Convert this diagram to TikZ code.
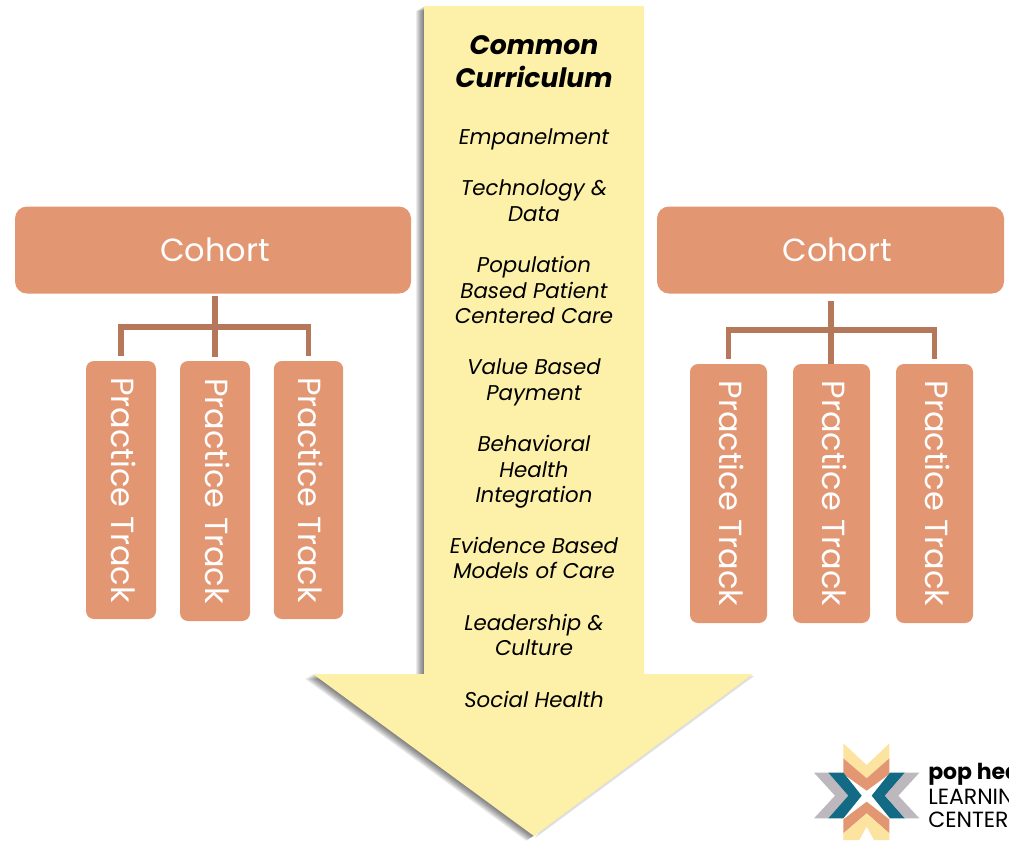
\documentclass[tikz,border=0pt]{standalone}
\usepackage{fontspec}
\setmainfont{Poppins}
\usepackage{tikz}
\definecolor{cohortcol}{HTML}{E29672}
\definecolor{linkcol}{HTML}{B5785A}
\definecolor{arrowcol}{HTML}{FDF0A9}
\definecolor{logoyellow}{HTML}{FDE3A0}
\definecolor{logoblue}{HTML}{126A85}
\definecolor{logogray}{HTML}{BDB7BE}
\tikzset{
  cohort/.style={fill=cohortcol, text=white, rounded corners=9pt, font=\fontsize{24}{28}\selectfont, minimum height=65.25pt},
  track/.style={fill=cohortcol, text=white, rounded corners=6pt, rotate=-90, text depth=4pt, font=\fontsize{24}{28}\selectfont},
  topic/.style={align=center, font=\fontsize{16}{19.1}\selectfont\itshape},
  link/.style={draw=linkcol, line width=4pt},
}
\begin{document}
\begin{tikzpicture}[x=0.75pt, y=-0.75pt]
      \useasboundingbox (0, 0) rectangle (1009, 840);
      \fill[black, opacity=0.12, shift={(1, 2)}] (644, 674) -- (753, 674) -- (534, 836) -- cycle;
      \foreach \s in {1, ..., 8} {
        \fill[black, opacity=0.08, shift={(-\s, 0.6*\s)}] (424, 6) -- (644, 6) -- (644, 674) -- (753, 674) -- (534, 836) -- (313, 674) -- (424, 674) -- cycle;
      }
      \fill[arrowcol] (424, 6) -- (644, 6) -- (644, 674) -- (753, 674) -- (534, 836) -- (313, 674) -- (424, 674) -- cycle;
      % left side
      \node[cohort, minimum width=297pt, text width=280pt, align=center] (cl) at (213, 250) {\hspace{3pt}Cohort};
      \node[track, minimum width=193.5pt, minimum height=52.5pt] (tl1) at (121, 490) {Practice Track};
      \node[track, minimum width=195pt, minimum height=52.5pt] (tl2) at (215, 491) {Practice Track};
      \node[track, minimum width=193.5pt, minimum height=52pt] (tl3) at (308.5, 490) {Practice Track};
      \coordinate (bl) at (215, 327);
      \draw[link] (cl.south -| bl) ++(0, 2) -- (tl2.west |- 0, 357);
      \draw[link] (tl1.west) ++(0, -5) |- (bl) -| ([yshift=3.75pt]tl3.west);
      % right side
      \node[cohort, minimum width=260.25pt, text width=245pt, align=center] (cr) at (830.5, 250) {\hspace{10pt}Cohort};
      \node[track, minimum width=194.25pt, minimum height=57.75pt] (tr1) at (728.5, 493.5) {Practice Track};
      \node[track, minimum width=194.25pt, minimum height=57.75pt] (tr2) at (831.5, 493.5) {Practice Track};
      \node[track, minimum width=194.25pt, minimum height=57.75pt] (tr3) at (934.5, 493.5) {Practice Track};
      \coordinate (br) at (831, 330);
      \draw[link] (831, 301) -- (br |- tr2.west) ++(0, -6);
      \draw[link] ([yshift=3.75pt]tr1.west) |- (br) -| ([yshift=3.75pt]tr3.west);
      % curriculum
      \node[topic, font=\fontsize{20}{24.5}\selectfont\bfseries\itshape] (t0) at (534, 61.5) {Common\\Curriculum};
      \node[topic] (t1) at (534, 139) {Empanelment};
      \node[topic] (t2) at (534, 200.5) {Technology \&\\Data};
      \node[topic] (t3) at (534, 290) {Population\\Based Patient\\Centered Care};
      \node[topic] (t4) at (534, 382.5) {Value Based\\Payment};
      \node[topic] (t5) at (534, 472) {Behavioral\\Health\\Integration};
      \node[topic] (t6) at (534, 558) {Evidence Based\\Models of Care};
      \node[topic] (t7) at (534, 635) {Leadership \&\\Culture};
      \node[topic] (t8) at (534, 699) {Social Health};
      % logo
      \begin{scope}[shift={(800, 730)}, x=0.25pt, y=-0.25pt]
        \fill[logoyellow] (130, 40) -- (200, 105) -- (268, 40) -- (268, 85) -- (200, 145) -- (130, 85) -- cycle;
        \fill[cohortcol] (130, 85) -- (200, 145) -- (268, 85) -- (268, 132) -- (200, 182) -- (130, 132) -- cycle;
        \fill[cohortcol] (200, 215) -- (268, 268) -- (268, 310) -- (200, 250) -- (130, 310) -- (130, 268) -- cycle;
        \fill[logoyellow] (200, 250) -- (268, 310) -- (268, 330) -- (222, 330) -- (200, 290) -- (178, 330) -- (130, 330) -- (130, 310) -- cycle;
        \fill[logogray] (42, 128) -- (85, 128) -- (145, 197) -- (85, 265) -- (42, 265) -- (105, 197) -- cycle;
        \fill[logoblue] (85, 128) -- (130, 128) -- (185, 197) -- (130, 265) -- (85, 265) -- (145, 197) -- cycle;
        \fill[logoblue] (270, 128) -- (315, 128) -- (255, 197) -- (315, 265) -- (270, 265) -- (215, 197) -- cycle;
        \fill[logogray] (315, 128) -- (358, 128) -- (295, 197) -- (358, 265) -- (315, 265) -- (255, 197) -- cycle;
      \end{scope}
      \node[anchor=base west, inner sep=0pt, font=\fontsize{16.5}{18}\selectfont\bfseries] (l1) at (928, 779) {pop hea};
      \node[anchor=base west, inner sep=0pt, font=\fontsize{16.5}{18}\selectfont] (l2) at (928, 804) {LEARNIN};
      \node[anchor=base west, inner sep=0pt, font=\fontsize{16.5}{18}\selectfont] (l3) at (928, 827) {CENTER};
    \end{tikzpicture}
\end{document}
